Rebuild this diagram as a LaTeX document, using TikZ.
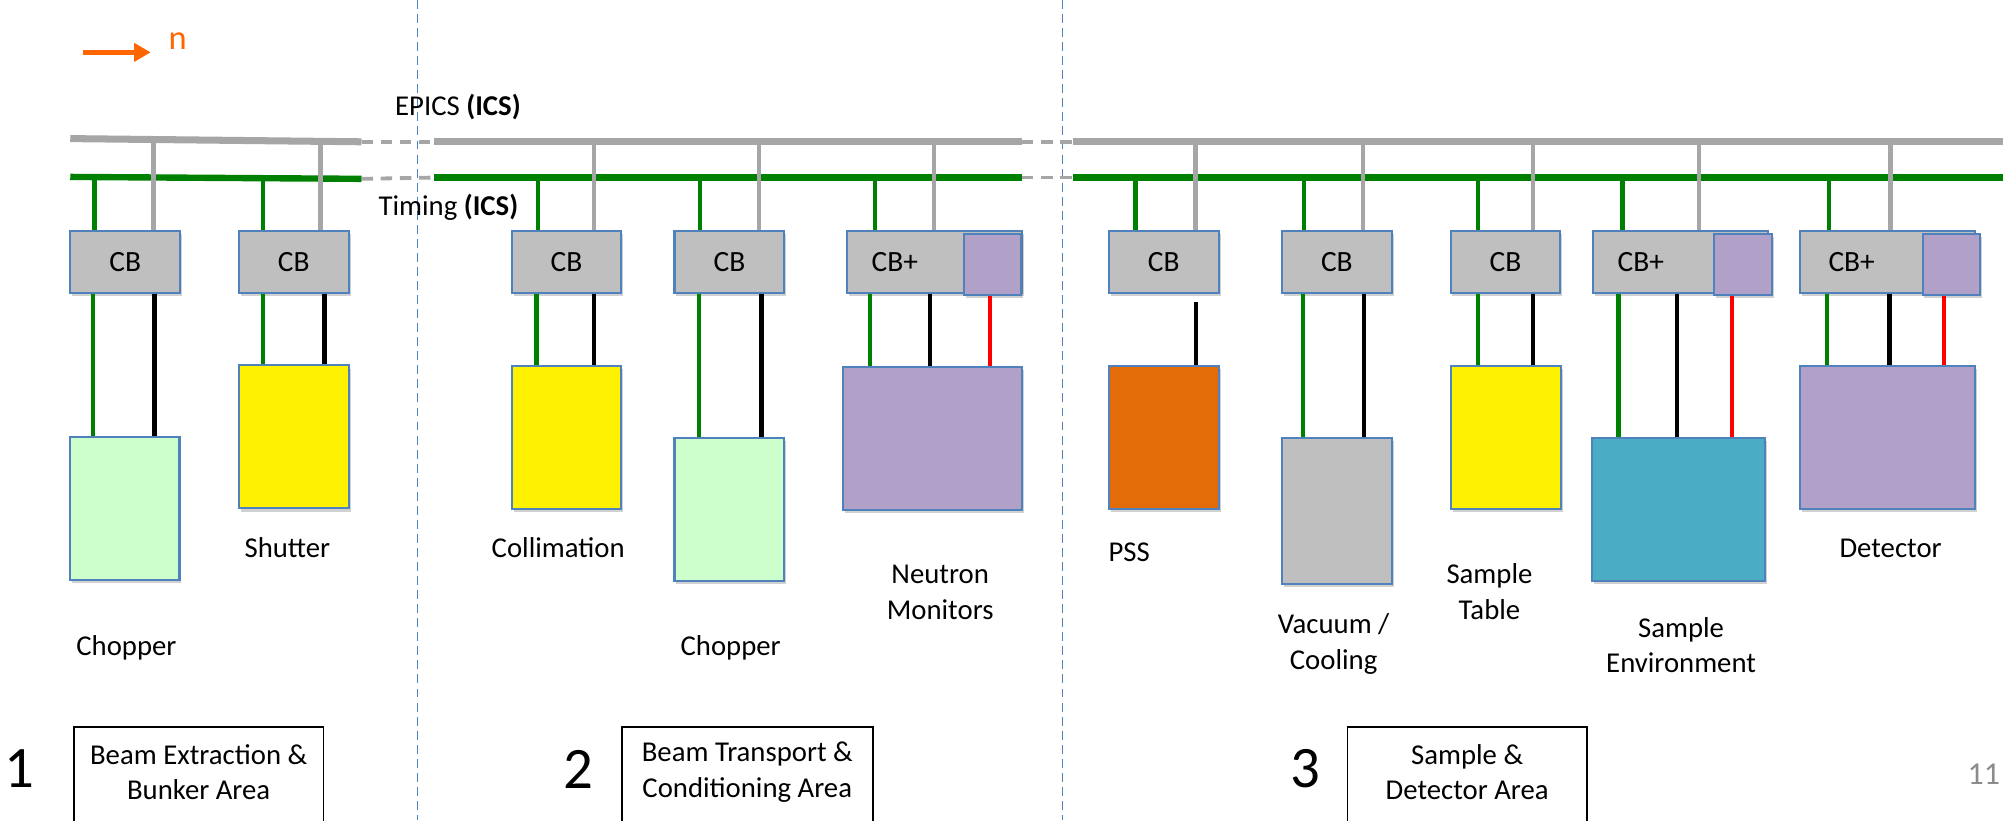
\documentclass[tikz,border=0pt]{standalone}
\usepackage{fontspec}
\setmainfont{Carlito}
\usetikzlibrary{shadows,arrows.meta}
\definecolor{cbgrey}{HTML}{BFBFBF}
\definecolor{boxblue}{HTML}{4F81BD}
\definecolor{busgrey}{HTML}{A6A6A6}
\definecolor{tgreen}{HTML}{008000}
\definecolor{lpurple}{HTML}{B1A0C7}
\definecolor{lgreen}{HTML}{CCFFCC}
\definecolor{pssorange}{HTML}{E36C09}
\definecolor{teal}{HTML}{4BACC6}
\definecolor{arrorange}{HTML}{FF6600}
\definecolor{pagegrey}{HTML}{8C8C8C}
\tikzset{
  shad/.style={drop shadow={shadow xshift=1.5pt, shadow yshift=-2.5pt, opacity=0.3, fill=black!60}},
  cbbox/.style={draw=boxblue, line width=1.6pt, fill=cbgrey, minimum width=86, minimum height=48, inner sep=0pt, font=\fontsize{23}{27}\selectfont, shad},
  cbwide/.style={cbbox, minimum width=137},
  subbox/.style={draw=boxblue, line width=1.6pt, fill=lpurple, minimum width=45, minimum height=48, inner sep=0pt, shad},
  dev/.style={draw=boxblue, line width=1.6pt, minimum width=86, minimum height=112, inner sep=0pt, shad},
  lbl/.style={font=\fontsize{22.5}{28}\selectfont, align=center, inner sep=0pt},
  numlbl/.style={font=\fontsize{46}{50}\selectfont, inner sep=0pt},
  epicsbus/.style={line width=5.5pt, draw=busgrey},
  timbus/.style={line width=5pt, draw=tgreen},
  gapdash/.style={line width=3pt, draw=busgrey, dash pattern=on 9pt off 6pt},
  edrop/.style={line width=3.6pt, draw=busgrey},
  tdrop/.style={line width=3.4pt, draw=tgreen},
  bdrop/.style={line width=3.4pt, draw=black},
  rdrop/.style={line width=3.4pt, draw=red},
  sep/.style={draw=boxblue, line width=0.9pt, dash pattern=on 7pt off 4pt},
  frame/.style={draw=black, line width=1.4pt}
}
\begin{document}
\begin{tikzpicture}[x=1pt,y=-1pt]
\useasboundingbox (0,0) rectangle (1568,642);
% separators
\draw[sep] (326.5,0) -- (326.5,642);
\draw[sep] (832,0) -- (832,642);
% arrow n
\coordinate (n0) at (65,41);
\coordinate (n1) at (118,41);
\draw[arrorange, line width=3.6pt, -{Triangle[length=13pt,width=14pt]}] (n0) -- (n1);
\node[text=arrorange, font=\fontsize{27}{30}\selectfont, inner sep=0pt] (nlab) at (139,32) {n};
% bus labels
\node[lbl] (epics) at (358.5,84) {EPICS \textbf{(ICS)}};
\node[lbl] (timing) at (351,162) {Timing \textbf{(ICS)}};
% buses
\coordinate (e1a) at (55,108.5); \coordinate (e1b) at (283,111);
\coordinate (e2a) at (340,111); \coordinate (e2b) at (800,111);
\coordinate (e3a) at (840,111); \coordinate (e3b) at (1568,111);
\coordinate (t1a) at (55,138.5); \coordinate (t1b) at (283,140);
\coordinate (t2a) at (340,139); \coordinate (t2b) at (800,139);
\coordinate (t3a) at (840,139); \coordinate (t3b) at (1568,139);
\coordinate (eb) at (0,110);
\coordinate (tb) at (0,139);
\draw[epicsbus] (e1a) -- (e1b);
\draw[epicsbus] (e2a) -- (e2b);
\draw[epicsbus] (e3a) -- (e3b);
\draw[gapdash] (e1b) -- (e2a);
\draw[gapdash] (e2b) -- (e3a);
\draw[timbus] (t1a) -- (t1b);
\draw[timbus] (t2a) -- (t2b);
\draw[timbus] (t3a) -- (t3b);
\draw[gapdash] (t1b) -- (t2a);
\draw[gapdash] (t2b) -- (t3a);
% CB boxes
\node[cbbox] (cb1) at (98,205) {CB};
\node[cbbox] (cb2) at (230,205) {CB};
\node[cbbox] (cb3) at (443.5,205) {CB};
\node[cbbox] (cb4) at (571,205) {CB};
\node[cbwide] (cb5) at (731.5,205) {};
\node[subbox] (cb5p) at (777,207) {};
\node[cbbox] (cb6) at (911,205) {CB};
\node[cbbox] (cb7) at (1046.5,205) {CB};
\node[cbbox] (cb8) at (1178.5,205) {CB};
\node[cbwide] (cb9) at (1315.5,205) {};
\node[subbox] (cb9p) at (1364.5,207) {};
\node[cbwide] (cb10) at (1477.5,205) {};
\node[subbox] (cb10p) at (1527.5,207) {};
\node[font=\fontsize{23}{27}\selectfont, inner sep=0pt] at ([xshift=-31pt]cb5.center) {CB+};
\node[font=\fontsize{23}{27}\selectfont, inner sep=0pt] at ([xshift=-31pt]cb9.center) {CB+};
\node[font=\fontsize{23}{27}\selectfont, inner sep=0pt] at ([xshift=-28pt]cb10.center) {CB+};
% devices
\node[dev, fill=lgreen] (chop1) at (97.5,398) {};
\node[dev, fill=yellow] (shut) at (230,342) {};
\node[dev, fill=yellow] (coll) at (443.5,342.5) {};
\node[dev, fill=lgreen] (chop2) at (571,399) {};
\node[dev, fill=lpurple, minimum width=140] (nm) at (730,343) {};
\node[dev, fill=pssorange] (pss) at (911,342.5) {};
\node[dev, fill=cbgrey, minimum height=114] (vac) at (1046.5,400) {};
\node[dev, fill=yellow] (tab) at (1179,342.5) {};
\node[dev, fill=teal, minimum width=136] (senv) at (1314,399) {};
\node[dev, fill=lpurple, minimum width=137] (det) at (1477.5,342.5) {};
% device labels
\node[lbl] (l1) at (99,507) {Chopper};
\node[lbl] (l2) at (225,429) {Shutter};
\node[lbl] (l3) at (437,429) {Collimation};
\node[lbl] (l4) at (572,507) {Chopper};
\node[lbl] (l5) at (736,463.5) {Neutron\\Monitors};
\node[lbl] (l6) at (884,432) {PSS};
\node[lbl] (l7) at (1044,504) {Vacuum /\\Cooling};
\node[lbl] (l8) at (1166,463) {Sample\\Table};
\node[lbl] (l9) at (1316,505) {Sample\\Environment};
\node[lbl] (l10) at (1480,429) {Detector};
% drops from buses: green (timing) then grey (EPICS)
\foreach \n/\g/\e in {cb1/-24/22, cb2/-24/21, cb3/-22.5/21.5, cb4/-23/23, cb5/-46.5/-0.5, cb6/-22/25, cb7/-25.5/20.5, cb8/-21.5/21.5, cb9/-45.5/14.5, cb10/-45.5/2.5}{
  \draw[tdrop] ([xshift=\g pt]\n.north) -- ([xshift=\g pt]\n.north |- tb);
  \draw[edrop] ([xshift=\e pt]\n.north) -- ([xshift=\e pt]\n.north |- eb);
}
% drops to devices
\foreach \n/\d/\g/\b in {cb1/chop1/-25/23, cb2/shut/-24/24, cb3/coll/-23.5/21.5, cb4/chop2/-24/25, cb5/nm/-50.5/-3.5, cb7/vac/-26.5/21.5, cb8/tab/-21.5/21.5, cb9/senv/-48.5/-2.5, cb10/det/-47.5/1.5}{
  \draw[tdrop] ([xshift=\g pt]\n.south) -- ([xshift=\g pt]\n.south |- \d.north);
  \draw[bdrop] ([xshift=\b pt]\n.south) -- ([xshift=\b pt]\n.south |- \d.north);
}
\draw[bdrop] ([xshift=25pt, yshift=-7pt]cb6.south) -- ([xshift=25pt]cb6.south |- pss.north);
\draw[rdrop] ([xshift=-2pt]cb5p.south) -- ([xshift=-2pt]cb5p.south |- nm.north);
\draw[rdrop] ([xshift=-8.5pt]cb9p.south) -- ([xshift=-8.5pt]cb9p.south |- senv.north);
\draw[rdrop] ([xshift=-5.5pt]cb10p.south) -- ([xshift=-5.5pt]cb10p.south |- det.north);
% area boxes
\node[lbl, minimum width=195, minimum height=71] (a1) at (155.5,604.5) {Beam Extraction \&\\Bunker Area};
\node[lbl, minimum width=196, minimum height=71] (a2) at (585,604.5) {Beam Transport \&\\Conditioning Area};
\node[lbl, minimum width=187, minimum height=71] (a3) at (1148.5,604.5) {Sample \&\\Detector Area};
\foreach \a in {a1,a2,a3}{
  \draw[frame] ([yshift=-40pt]\a.south west) -- (\a.north west) -- (\a.north east) -- ([yshift=-40pt]\a.south east);
}
\node[numlbl] (k1) at (15,602) {1};
\node[numlbl] (k2) at (453,602) {2};
\node[numlbl] (k3) at (1022,602) {3};
\node[text=pagegrey, font=\fontsize{25}{28}\selectfont, inner sep=0pt] (pg) at (1553,606) {11};
\end{tikzpicture}
\end{document}
